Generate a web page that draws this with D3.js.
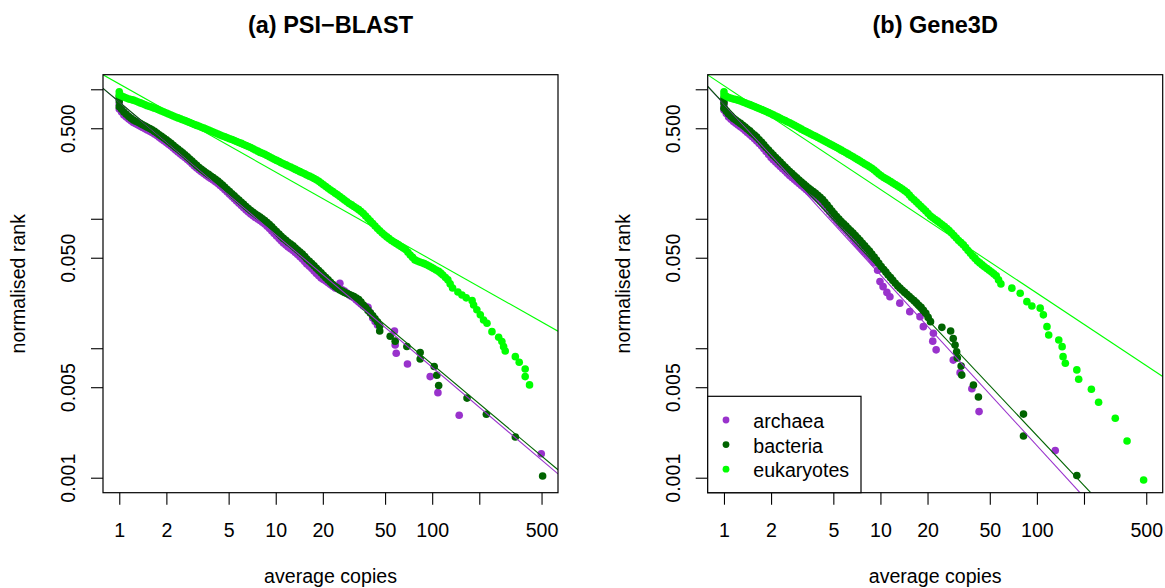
<!DOCTYPE html>
<html>
<head>
<meta charset="utf-8">
<script src="https://cdn.jsdelivr.net/npm/d3@7"></script>
<style>
  body { margin: 0; background: #fff; }
  svg { display: block; }
  text { font-family: "Liberation Sans", Arial, Helvetica, sans-serif; fill: #000; }
</style>
</head>
<body>
<div id="chart"></div>
<script>
// ---- data: [average copies, normalised rank] ----
const psiArchaea = [
  [1,0.842],[1,0.770],[1,0.705],[1.07,0.633],[1.15,0.590],[1.23,0.554],[1.32,0.530],[1.41,0.507],
  [1.51,0.485],[1.62,0.464],[1.74,0.440],[1.86,0.413],[2.00,0.388],[2.14,0.365],[2.29,0.340],
  [2.46,0.3166],[2.63,0.2975],[2.82,0.2770],[3.02,0.2557],[3.24,0.2380],[3.47,0.2238],[3.72,0.2102],
  [3.98,0.1993],[4.27,0.1873],[4.57,0.1745],[4.90,0.1610],[5.25,0.1487],[5.62,0.1372],[6.03,0.1267],
  [6.46,0.1169],[6.92,0.1089],[7.41,0.1023],[7.94,0.0970],[8.51,0.0912],[9.12,0.0842],[9.77,0.0770],
  [10.5,0.0705],[11.2,0.0650],[12.0,0.0606],[12.9,0.0569],[13.8,0.0530],[14.8,0.0489],[15.8,0.0448],
  [17.0,0.0413],[18.2,0.0378],[19.5,0.0349],[20.9,0.0331],[22.4,0.0311],[24.0,0.0292],[25.7,0.0317],
  [27.5,0.0277],[29.5,0.0258],[31.6,0.0245],[33.9,0.0228],[36.3,0.0212],[38.9,0.0207],[41.7,0.01714],
  [44.7,0.01513],[57.4,0.0136],[58.0,0.0106],[58.9,0.00915],[69.5,0.00756],[97.1,0.00604],
  [108.8,0.00454],[148.8,0.00304],[498,0.00153],
  [1.035,0.668],[1.109,0.611],[1.189,0.572],[1.274,0.542],[1.365,0.518],[1.462,0.496],[1.567,0.474],
  [1.679,0.452],[1.799,0.426],[1.928,0.400],[2.065,0.376],[2.213,0.352],[2.371,0.328],[2.541,0.307],
  [2.723,0.287],[2.917,0.266],[3.126,0.247],[3.350,0.231],[3.589,0.217],[3.846,0.2047],[4.121,0.1932],
  [4.416,0.1808],[4.732,0.1676],[5.070,0.1547],[5.433,0.1428],[5.821,0.1318],[6.237,0.1217],
  [6.683,0.1128],[7.161,0.1056],[7.674,0.0996],[8.222,0.0941],[8.810,0.0876],[9.441,0.0805],
  [10.12,0.0737],[10.84,0.0677],[11.61,0.0628],[12.45,0.0587],[13.34,0.0549],[14.29,0.0509],
  [15.31,0.0468],[16.41,0.0430],[17.58,0.0395],[18.84,0.0363],[20.18,0.0340],[21.63,0.0321],
  [23.17,0.0301],[24.83,0.0288],[26.61,0.0283],[28.51,0.0267],[30.55,0.0251],[32.73,0.0236],
  [35.08,0.0220],[37.58,0.0210],[40.27,0.0188],[43.15,0.0161]
];
const psiBacteria = [
  [1,0.877],[1,0.812],[1,0.734],[1.07,0.668],[1.15,0.617],[1.23,0.579],[1.32,0.556],[1.41,0.532],
  [1.51,0.509],[1.62,0.487],[1.74,0.460],[1.86,0.433],[2.00,0.408],[2.14,0.382],[2.29,0.357],
  [2.46,0.334],[2.63,0.312],[2.82,0.2895],[3.02,0.268],[3.24,0.249],[3.47,0.234],[3.72,0.220],
  [3.98,0.2084],[4.27,0.1958],[4.57,0.1824],[4.90,0.168],[5.25,0.156],[5.62,0.1447],[6.03,0.134],
  [6.46,0.1245],[6.92,0.1159],[7.41,0.1089],[7.94,0.1029],[8.51,0.0970],[9.12,0.0904],[9.77,0.0830],
  [10.5,0.0763],[11.2,0.0705],[12.0,0.0658],[12.9,0.0617],[13.8,0.0574],[14.8,0.0533],[15.8,0.0489],
  [17.0,0.0451],[18.2,0.0415],[19.5,0.0382],[20.9,0.0351],[22.4,0.0323],[24.0,0.0300],[25.7,0.0282],
  [27.5,0.0270],[29.5,0.0260],[31.6,0.0251],[33.9,0.0238],[36.3,0.0216],[38.9,0.0196],[41.7,0.0178],
  [44.7,0.0160],[46.2,0.01487],[46.2,0.0136],[53.9,0.01237],[58.0,0.01134],[68.9,0.0103],
  [83.8,0.00928],[83.8,0.00825],[103,0.00722],[107,0.00619],[110,0.00515],[167,0.00412],
  [222,0.00309],[340,0.00206],[508,0.00103],
  [1.035,0.700],[1.109,0.642],[1.189,0.598],[1.274,0.567],[1.365,0.544],[1.462,0.520],[1.567,0.498],
  [1.679,0.473],[1.799,0.446],[1.928,0.420],[2.065,0.395],[2.213,0.369],[2.371,0.345],[2.541,0.323],
  [2.723,0.3005],[2.917,0.2785],[3.126,0.2583],[3.350,0.2414],[3.589,0.2269],[3.846,0.2141],
  [4.121,0.2020],[4.416,0.1890],[4.732,0.1750],[5.070,0.1619],[5.433,0.1502],[5.821,0.1392],
  [6.237,0.1292],[6.683,0.1201],[7.161,0.1123],[7.674,0.1059],[8.222,0.0999],[8.810,0.0936],
  [9.441,0.0866],[10.12,0.0796],[10.84,0.0733],[11.61,0.0681],[12.45,0.0637],[13.34,0.0595],
  [14.29,0.0553],[15.31,0.0511],[16.41,0.0470],[17.58,0.0433],[18.84,0.0398],[20.18,0.0366],
  [21.63,0.0337],[23.17,0.0311],[24.83,0.0291],[26.61,0.0276],[28.51,0.0265],[30.55,0.0255],
  [32.73,0.0244],[35.08,0.0227],[37.58,0.0206],[40.27,0.0187],[43.15,0.0169]
];
const psiEukaryotes = [
  [1,0.958],[1,0.904],[1.07,0.872],[1.15,0.842],[1.23,0.824],[1.32,0.798],[1.41,0.773],[1.51,0.747],
  [1.62,0.725],[1.74,0.703],[1.86,0.680],[2.00,0.656],[2.14,0.633],[2.29,0.611],[2.46,0.591],
  [2.63,0.573],[2.82,0.554],[3.02,0.535],[3.24,0.518],[3.47,0.501],[3.72,0.485],[3.98,0.468],
  [4.27,0.452],[4.57,0.436],[4.90,0.422],[5.25,0.409],[5.62,0.395],[6.03,0.382],[6.46,0.368],
  [6.92,0.355],[7.41,0.340],[7.94,0.3256],[8.51,0.3144],[9.12,0.3012],[9.77,0.2885],[10.5,0.2764],
  [11.2,0.2659],[12.0,0.2557],[12.9,0.2455],[13.8,0.2357],[14.8,0.2266],[15.8,0.2179],[17.0,0.2091],
  [18.2,0.2001],[19.5,0.1890],[20.9,0.1776],[22.4,0.1669],[24.0,0.1576],[25.7,0.1487],[27.5,0.1397],
  [29.5,0.1313],[31.6,0.1245],[33.9,0.1176],[36.3,0.1099],[38.9,0.1005],[41.7,0.0920],[44.7,0.0842],
  [47.9,0.0777],[51.3,0.0724],[55.0,0.0680],[58.9,0.0645],[63.1,0.0611],[67.6,0.0579],[72.4,0.0525],
  [77.6,0.0481],[83.2,0.0464],[89.1,0.0450],[95.5,0.0432],[102,0.0413],[110,0.0392],[117,0.0368],
  [126,0.0337],[135,0.0292],[146,0.0272],[155,0.0258],[165,0.0245],[180,0.0233],[184,0.0216],
  [193,0.0198],[203,0.0181],[213,0.01654],[224,0.0156],[241,0.01343],[266,0.01216],[279,0.01125],
  [286,0.01029],[293,0.00953],[340,0.00861],[360,0.00779],[393,0.00692],[393,0.00604],[419,0.00521],
  [1.035,0.888],[1.109,0.857],[1.189,0.833],[1.274,0.811],[1.365,0.785],[1.462,0.760],[1.567,0.736],
  [1.679,0.714],[1.799,0.691],[1.928,0.668],[2.065,0.644],[2.213,0.622],[2.371,0.601],[2.541,0.582],
  [2.723,0.563],[2.917,0.544],[3.126,0.526],[3.350,0.509],[3.589,0.493],[3.846,0.476],[4.121,0.460],
  [4.416,0.444],[4.732,0.429],[5.070,0.415],[5.433,0.402],[5.821,0.388],[6.237,0.375],[6.683,0.361],
  [7.161,0.347],[7.674,0.333],[8.222,0.320],[8.810,0.3077],[9.441,0.2948],[10.12,0.2824],
  [10.84,0.2711],[11.61,0.2607],[12.45,0.2505],[13.34,0.2405],[14.29,0.2311],[15.31,0.2222],
  [16.41,0.2134],[17.58,0.2045],[18.84,0.1945],[20.18,0.1832],[21.63,0.1722],[23.17,0.1622],
  [24.83,0.1531],[26.61,0.1441],[28.51,0.1354],[30.55,0.1279],[32.73,0.1210],[35.08,0.1137],
  [37.58,0.1051],[40.27,0.0962],[43.15,0.0880],[46.24,0.0809],[49.55,0.0750],[53.09,0.0702],
  [56.89,0.0662],[60.95,0.0628],[65.31,0.0595],[69.98,0.0551],[74.99,0.0503],[80.35,0.0472],
  [86.10,0.0457],[92.26,0.0441],[98.86,0.0422],[105.9,0.0402],[113.5,0.0380],[121.6,0.0352],
  [130.3,0.0314]
];

const geneArchaea = [
  [1,0.802],[1,0.743],[1,0.692],[1.07,0.611],[1.15,0.564],[1.23,0.530],[1.32,0.498],[1.41,0.464],
  [1.51,0.432],[1.62,0.399],[1.74,0.365],[1.86,0.331],[2.00,0.2975],[2.14,0.2746],[2.29,0.2535],
  [2.46,0.2339],[2.63,0.2160],[2.82,0.2011],[3.02,0.1873],[3.24,0.1745],[3.47,0.1625],[3.72,0.1527],
  [3.98,0.1422],[4.27,0.1313],[4.57,0.1191],[4.90,0.1070],[5.25,0.0970],[5.62,0.0888],[6.03,0.0812],
  [6.46,0.0743],[6.92,0.0668],[7.41,0.0606],[7.94,0.0554],[8.51,0.0512],[9.12,0.0456],[9.6,0.0400],
  [9.93,0.0327],[10.4,0.0299],[11.0,0.0270],[11.5,0.0250],[13.3,0.0223],[15.4,0.01917],[17.9,0.01754],
  [18.8,0.01468],[21.8,0.01305],[21.6,0.01134],[22.7,0.00972],[29.2,0.0081],[32.3,0.00648],
  [38.4,0.00486],[42.7,0.00324],[131,0.00162],
  [1.035,0.650],[1.109,0.587],[1.189,0.547],[1.274,0.514],[1.365,0.481],[1.462,0.448],[1.567,0.415],
  [1.679,0.382],[1.799,0.348],[1.928,0.314],[2.065,0.2858],[2.213,0.2638],[2.371,0.2435],
  [2.541,0.2248],[2.723,0.2084],[2.917,0.1941],[3.126,0.1808],[3.350,0.1684],[3.589,0.1575],
  [3.846,0.1474],[4.121,0.1366],[4.416,0.1251],[4.732,0.1129],[5.070,0.1019],[5.433,0.0928],
  [5.821,0.0849],[6.237,0.0777],[6.683,0.0705],[7.161,0.0636],[7.674,0.0579],[8.222,0.0533],
  [8.810,0.0483]
];
const geneBacteria = [
  [1,0.852],[1,0.784],[1,0.713],[1.07,0.645],[1.15,0.595],[1.23,0.562],[1.32,0.528],[1.41,0.494],
  [1.51,0.460],[1.62,0.427],[1.74,0.390],[1.86,0.355],[2.00,0.3233],[2.14,0.2975],[2.29,0.2736],
  [2.46,0.2512],[2.63,0.2319],[2.82,0.2148],[3.02,0.1993],[3.24,0.1850],[3.47,0.1729],[3.72,0.1625],
  [3.98,0.1519],[4.27,0.1409],[4.57,0.1278],[4.90,0.1149],[5.25,0.1040],[5.62,0.0950],[6.03,0.0877],
  [6.46,0.0809],[6.92,0.0743],[7.41,0.0678],[7.94,0.0617],[8.51,0.0562],[9.12,0.0507],[9.77,0.0452],
  [10.5,0.0406],[11.2,0.0368],[12.0,0.0334],[12.9,0.0303],[13.8,0.0280],[14.8,0.0260],[15.8,0.0242],
  [17.0,0.0224],[18.2,0.0207],[19.5,0.0186],[20.9,0.01605],[24.7,0.0145],[28.1,0.0136],[29.2,0.0119],
  [30.0,0.0106],[30.7,0.0094],[31.0,0.0084],[32.8,0.0073],[33.1,0.0062],[39.3,0.0052],[42.3,0.0042],
  [82.1,0.0031],[82.1,0.0021],[180,0.00104],
  [1.035,0.678],[1.109,0.620],[1.189,0.578],[1.274,0.545],[1.365,0.511],[1.462,0.477],[1.567,0.443],
  [1.679,0.408],[1.799,0.372],[1.928,0.339],[2.065,0.310],[2.213,0.2853],[2.371,0.2622],
  [2.541,0.2414],[2.723,0.2232],[2.917,0.2069],[3.126,0.1920],[3.350,0.1788],[3.589,0.1676],
  [3.846,0.1571],[4.121,0.1463],[4.416,0.1342],[4.732,0.1212],[5.070,0.1093],[5.433,0.0994],
  [5.821,0.0913],[6.237,0.0842],[6.683,0.0775],[7.161,0.0710],[7.674,0.0647],[8.222,0.0589],
  [8.810,0.0534],[9.441,0.0479],[10.12,0.0428],[10.84,0.0387],[11.61,0.0351],[12.45,0.0318],
  [13.34,0.0291],[14.29,0.0270],[15.31,0.0251],[16.41,0.0233],[17.58,0.0215],[18.84,0.0196],
  [20.18,0.0173]
];
const geneEukaryotes = [
  [1,0.958],[1,0.904],[1.07,0.864],[1.15,0.842],[1.23,0.824],[1.32,0.798],[1.41,0.774],[1.51,0.748],
  [1.62,0.722],[1.74,0.697],[1.86,0.673],[2.00,0.647],[2.14,0.622],[2.29,0.597],[2.46,0.573],
  [2.63,0.551],[2.82,0.527],[3.02,0.504],[3.24,0.481],[3.47,0.461],[3.72,0.442],[3.98,0.424],
  [4.27,0.406],[4.57,0.388],[4.90,0.371],[5.25,0.355],[5.62,0.3386],[6.03,0.3233],[6.46,0.308],
  [6.92,0.2933],[7.41,0.2789],[7.94,0.265],[8.51,0.2521],[9.12,0.2380],[9.77,0.2218],[10.5,0.2084],
  [11.2,0.1993],[12.0,0.1890],[12.9,0.1792],[13.8,0.1699],[14.8,0.1596],[15.8,0.1460],[17.0,0.1348],
  [18.2,0.1245],[19.5,0.1149],[20.9,0.1051],[22.4,0.0988],[24.0,0.0928],[25.7,0.0872],[27.5,0.0812],
  [29.5,0.0743],[31.6,0.0680],[33.9,0.0628],[36.3,0.0569],[38.9,0.0516],[41.7,0.0472],[44.7,0.0440],
  [47.9,0.0413],[51.3,0.0388],[55.0,0.0362],[58.9,0.0314],[69.2,0.0291],[78.2,0.0266],[86.3,0.0229],
  [92.9,0.0212],[105,0.0204],[110,0.0181],[116,0.01468],[119,0.01267],[138,0.01159],[145,0.01029],
  [147,0.00861],[152,0.00766],[180,0.0068],[185,0.00576],[223,0.00482],[248,0.00383],[317,0.00288],
  [377,0.00192],[481,0.00096],
  [1.035,0.884],[1.109,0.853],[1.189,0.833],[1.274,0.811],[1.365,0.786],[1.462,0.761],[1.567,0.735],
  [1.679,0.709],[1.799,0.685],[1.928,0.660],[2.065,0.634],[2.213,0.609],[2.371,0.585],[2.541,0.562],
  [2.723,0.539],[2.917,0.515],[3.126,0.492],[3.350,0.471],[3.589,0.451],[3.846,0.433],[4.121,0.415],
  [4.416,0.397],[4.732,0.379],[5.070,0.363],[5.433,0.347],[5.821,0.331],[6.237,0.3156],[6.683,0.3006],
  [7.161,0.2860],[7.674,0.2719],[8.222,0.2585],[8.810,0.2450],[9.441,0.2298],[10.12,0.2150],
  [10.84,0.2038],[11.61,0.1941],[12.45,0.1840],[13.34,0.1745],[14.29,0.1647],[15.31,0.1527],
  [16.41,0.1403],[17.58,0.1295],[18.84,0.1196],[20.18,0.1099],[21.63,0.1019],[23.17,0.0958],
  [24.83,0.0900],[26.61,0.0841],[28.51,0.0777],[30.55,0.0711],[32.73,0.0654],[35.08,0.0598],
  [37.58,0.0542],[40.27,0.0494],[43.15,0.0456],[46.24,0.0426],[49.55,0.0400],[53.09,0.0375],
  [56.89,0.0337]
];

// power-law fits: rank = a * copies^b  (archaea, bacteria, eukaryotes)
const psiFitA = [0.796, 0.798, 1.10];
const psiFitB = [-1.024, -1.013, -0.681];
const geneFitA = [0.769, 0.776, 1.066];
const geneFitB = [-1.319, -1.282, -0.801];

const groups = ['archaea', 'bacteria', 'eukaryotes'];
const groupColors = ['#9932CC', '#006400', '#00FF00'];
const xTicks = [1, 2, 5, 10, 20, 50, 100, 200, 500];
const xLabels = ['1', '2', '5', '10', '20', '50', '100', '', '500'];
const yTicks = [0.001, 0.005, 0.01, 0.05, 0.1, 0.5, 1];
const yLabels = ['0.001', '0.005', '', '0.050', '', '0.500', ''];

// ---- layout ----
const width = 1165, height = 588;
const plotTop = 74.7, plotBottom = 492.7, plotWidth = 455;
const fontSize = 19.6;

const panels = [
  {title: '(a) PSI\u2212BLAST', left: 103, series: [psiArchaea, psiBacteria, psiEukaryotes],
   fitA: psiFitA, fitB: psiFitB, legend: false},
  {title: '(b) Gene3D', left: 707.7, series: [geneArchaea, geneBacteria, geneEukaryotes],
   fitA: geneFitA, fitB: geneFitB, legend: true}
];

const svg = d3.select('#chart').append('svg')
  .attr('width', width)
  .attr('height', height);

svg.append('rect').attr('width', width).attr('height', height).attr('fill', '#fff');

panels.forEach((p, pi) => {
  const x = d3.scaleLog().domain([0.787, 637]).range([p.left, p.left + plotWidth]);
  const y = d3.scaleLog().domain([0.000766, 1.296]).range([plotBottom, plotTop]);
  const cx = p.left + plotWidth / 2;

  const clipId = `clip${pi}`;
  svg.append('clipPath').attr('id', clipId)
    .append('rect')
      .attr('x', p.left).attr('y', plotTop)
      .attr('width', plotWidth).attr('height', plotBottom - plotTop);

  // points, one group per kingdom
  const pts = svg.append('g').attr('clip-path', `url(#${clipId})`);
  p.series.forEach((data, si) => {
    pts.append('g').selectAll('circle')
      .data(data)
      .enter().append('circle')
        .attr('cx', d => x(d[0]))
        .attr('cy', d => y(d[1]))
        .attr('r', 3.8)
        .attr('fill', groupColors[si]);
  });

  // fitted lines
  const [x0, x1] = x.domain();
  p.fitA.forEach((a, si) => {
    const b = p.fitB[si];
    pts.append('line')
      .attr('x1', x(x0)).attr('y1', y(a * Math.pow(x0, b)))
      .attr('x2', x(x1)).attr('y2', y(a * Math.pow(x1, b)))
      .attr('stroke', groupColors[si])
      .attr('stroke-width', 1.1);
  });

  // box
  svg.append('rect')
    .attr('x', p.left).attr('y', plotTop)
    .attr('width', plotWidth).attr('height', plotBottom - plotTop)
    .attr('fill', 'none').attr('stroke', '#000').attr('stroke-width', 1.2);

  // x axis
  const gx = svg.append('g')
    .attr('transform', `translate(0,${plotBottom})`)
    .call(d3.axisBottom(x).tickValues(xTicks).tickSize(12).tickSizeOuter(0)
      .tickFormat((d, i) => xLabels[i]));
  gx.select('.domain').remove();
  gx.selectAll('line').attr('stroke', '#000').attr('stroke-width', 1.1);
  gx.selectAll('text')
    .attr('y', 44).attr('dy', null)
    .style('font-size', `${fontSize}px`)
    .style('font-family', '"Liberation Sans", Arial, sans-serif');

  // y axis
  const gy = svg.append('g')
    .attr('transform', `translate(${p.left},0)`)
    .call(d3.axisLeft(y).tickValues(yTicks).tickSize(12).tickSizeOuter(0)
      .tickFormat((d, i) => yLabels[i]));
  gy.select('.domain').remove();
  gy.selectAll('line').attr('stroke', '#000').attr('stroke-width', 1.1);
  gy.selectAll('text')
    .attr('x', null).attr('dy', null)
    .attr('text-anchor', 'middle')
    .attr('transform', 'translate(-28,0) rotate(-90)')
    .style('font-size', `${fontSize}px`)
    .style('font-family', '"Liberation Sans", Arial, sans-serif');

  // titles
  svg.append('text')
    .attr('x', cx).attr('y', 33.3)
    .attr('text-anchor', 'middle')
    .style('font-size', '23.5px').style('font-weight', 'bold')
    .text(p.title);

  svg.append('text')
    .attr('x', cx).attr('y', 582.7)
    .attr('text-anchor', 'middle')
    .style('font-size', `${fontSize}px`)
    .text('average copies');

  svg.append('text')
    .attr('transform', `translate(${p.left - 78},${(plotTop + plotBottom) / 2}) rotate(-90)`)
    .attr('text-anchor', 'middle')
    .style('font-size', `${fontSize}px`)
    .text('normalised rank');

  // legend
  if (p.legend) {
    const lg = svg.append('g');
    lg.append('rect')
      .attr('x', p.left).attr('y', 396.3)
      .attr('width', 153.3).attr('height', plotBottom - 396.3)
      .attr('fill', '#fff').attr('stroke', '#000').attr('stroke-width', 1.2);
    groups.forEach((g, i) => {
      const ly = 420 + i * 24.6;
      lg.append('circle')
        .attr('cx', p.left + 18.3).attr('cy', ly).attr('r', 3.4)
        .attr('fill', groupColors[i]);
      lg.append('text')
        .attr('x', p.left + 45.6).attr('y', ly + 8)
        .style('font-size', `${fontSize}px`)
        .text(g);
    });
  }
});
</script>
</body>
</html>
